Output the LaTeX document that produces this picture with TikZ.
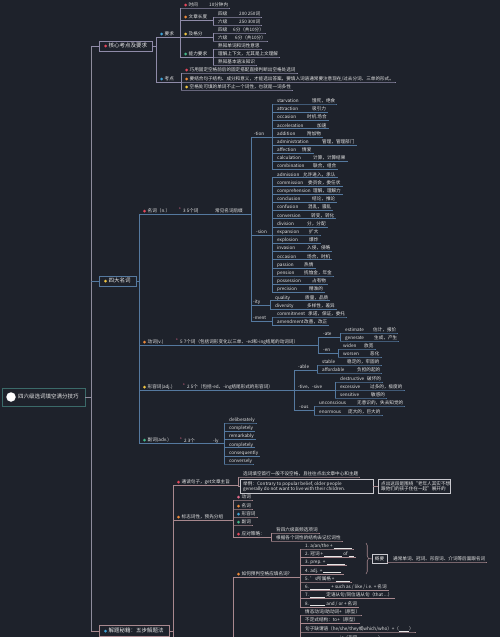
\documentclass[tikz,border=0pt]{standalone}
\usepackage{fontspec}
\setmainfont{Noto Sans CJK SC}
\usetikzlibrary{decorations.pathreplacing}
\definecolor{bg}{HTML}{1E222B}
\definecolor{fg}{HTML}{E6E6E6}
\definecolor{trunkc}{HTML}{8E8C9C}
\definecolor{corec}{HTML}{8F8BA8}
\definecolor{bluec}{HTML}{55799F}
\definecolor{pinkc}{HTML}{A8888E}
\definecolor{rootb}{HTML}{3B6A69}
\definecolor{redc}{HTML}{E5475B}
\definecolor{orangec}{HTML}{EE8A3A}
\definecolor{yellowc}{HTML}{F0C542}
\definecolor{greenc}{HTML}{45B98A}
\definecolor{bluedot}{HTML}{3FA3D8}
\definecolor{pinkdot}{HTML}{E4688A}
\definecolor{boxw}{HTML}{C9C9CF}
\newcommand\fs{\fontsize{4.6}{5.2}\selectfont}
\newcommand\fb{\fontsize{5.5}{6.5}\selectfont}
\newcommand\blk[1][16pt]{\rule[-0.5pt]{#1}{0.35pt}}
\tikzset{
  txt/.style={inner sep=0pt, anchor=west, text=fg, font=\fs, text height=3.7pt, text depth=0.9pt},
  txtm/.style={inner sep=0pt, anchor=west, text=fg, font=\fs, align=left},
  br/.style={draw=bluec, line width=0.55pt},
  trunk/.style={draw=trunkc, line width=0.6pt},
  dot/.style={circle, inner sep=0pt, minimum size=3pt},
  mbox/.style={draw=#1, fill=bg, line width=0.6pt, inner sep=0pt},
  wbox/.style={draw=boxw, line width=0.5pt, inner sep=0pt},
  star/.style={inner sep=0pt, text=pinkdot, font=\fs},
}
% one-text leaf
\newcommand\one[4]{%
  \node[txt] (#1) at ({#2+5},#3) {#4};
  \coordinate (#1u) at (#2,{#3+3});
  \draw[br] (#1u) -- (#1u -| #1.east) -- ++(2,0);
}
% two-text leaf
\newcommand\two[6]{%
  \node[txt] (#1) at ({#2+5},#3) {#4};
  \node[txt] (#1m) at (#5,#3) {#6};
  \coordinate (#1u) at (#2,{#3+3});
  \draw[br] (#1u) -- (#1u -| #1m.east) -- ++(2,0);
}
% dotted leaf
\newcommand\dtone[5]{%
  \node[dot,fill=#4] (#1d) at ({#2+5.5},#3) {};
  \node[txt] (#1) at ({#2+8.5},#3) {#5};
  \coordinate (#1u) at (#2,{#3+3});
  \draw[br] (#1u) -- (#1u -| #1.east) -- ++(2,0);
}
% dotted two-text leaf
\newcommand\dttwo[7]{%
  \node[dot,fill=#4] (#1d) at ({#2+5.5},#3) {};
  \node[txt] (#1) at ({#2+8.5},#3) {#5};
  \node[txt] (#1m) at (#6,#3) {#7};
  \coordinate (#1u) at (#2,{#3+3});
  \draw[br] (#1u) -- (#1u -| #1m.east) -- ++(2,0);
}
% dotted parent, underline to endX
\newcommand\dtpar[6]{%
  \node[dot,fill=#4] (#1d) at ({#2+5.5},#3) {};
  \node[txt] (#1) at ({#2+8.5},#3) {#5};
  \coordinate (#1u) at (#2,{#3+3});
  \coordinate (#1e) at (#6,{#3+3});
  \draw[br] (#1u) -- (#1e);
}
% plain parent
\newcommand\plainp[6]{%
  \node[txt] (#1) at (#4,#3) {#5};
  \coordinate (#1u) at (#2,{#3+3});
  \coordinate (#1e) at (#6,{#3+3});
  \draw[br] (#1u) -- (#1e);
}
\begin{document}
\begin{tikzpicture}[x=1pt,y=-1pt]
\useasboundingbox (0,0) rectangle (500,637);
\clip (0,0) rectangle (500,637);
\fill[bg] (0,0) rectangle (500,637);

% ---------- root and trunk ----------
\node[mbox=rootb, fill=bg, minimum width=83pt, minimum height=18pt] (root) at (43.5,397) {};
\node[circle, fill=white, inner sep=0pt, minimum size=9.5pt] (ricon) at (11,397) {};
\node[txt, font=\fb] (rtxt) at (18,397) {四六级选词填空满分技巧};
\coordinate (tTop) at (91,46);
\coordinate (tBot) at (91,631);
\draw[trunk] (tTop) -- (tBot);
\draw[trunk] (root.east) -- (root.east -| tTop);

% ---------- branch 1 ----------
\begin{scope}[br/.style={draw=corec, line width=0.55pt}]
\node[mbox=corec, minimum width=53pt, minimum height=10pt] (core) at (125.5,46) {};
\node[dot, fill=redc] (cored) at (105.5,46) {};
\node[txt, font=\fb] (coret) at (108.5,46) {核心考点及要求};
\draw[br] (tTop) -- (core.west);
\coordinate (coreR) at (156,46);
\draw[br] (core.east) -- (coreR);
\dtpar{yq}{156}{34}{bluedot}{要求}{180}
\dtpar{kd}{156}{79}{bluedot}{考点}{181}
\draw[br] (yqu) -- (kdu);
% 要求 children
\dttwo{sj}{180}{5}{redc}{时间}{209}{10分钟内}
\dtpar{wz}{180}{17}{orangec}{文章长度}{213}
\two{wz4}{213}{14}{四级}{239}{200~250词}
\two{wz6}{213}{22}{六级}{239}{250~300词}
\draw[br] (wz4u) -- (wz6u);
\dtpar{jg}{180}{34}{yellowc}{及格分}{213}
\two{jg4}{213}{30}{四级}{233}{6分（共10分）}
\two{jg6}{213}{38}{六级}{235}{6分（共10分）}
\draw[br] (jg4u) -- (jg6u);
\dtpar{nl}{180}{54}{greenc}{能力要求}{213}
\one{nl1}{213}{46}{熟知单词和词性意思}
\one{nl2}{213}{54}{理解上下文，尤其是上文理解}
\one{nl3}{213}{62}{熟知基本语法知识}
\draw[br] (nl1u) -- (nl3u);
\draw[br] (sju) -- (nlu);
% 考点 children
\dtone{k1}{181}{70}{redc}{巧用固定空格前后的固定搭配直接判断出空格处选词}
\dtone{k2}{181}{79}{orangec}{要结合句子结构、成分和意义，才能选出答案。要填入词语通常要注意现在/过去分词、三单的形式。}
\dtone{k3}{181}{87}{yellowc}{空格处可填的单词不止一个词性，也就是一词多性}
\draw[br] (k1u) -- (k3u);
\end{scope}

% ---------- branch 2 ----------
\begin{scope}[br/.style={draw=bluec, line width=0.55pt}]
\node[mbox=bluec, minimum width=37pt, minimum height=10pt] (four) at (117.5,281) {};
\node[dot, fill=yellowc] (fourd) at (105.5,281) {};
\node[txt, font=\fb] (fourt) at (108.5,281) {四大名词};
\draw[br] (tTop |- four.west) -- (four.west);
\coordinate (fourR) at (139,281);
\draw[br] (four.east) -- (fourR);

% 名词
\dtpar{nm}{139}{211}{redc}{名词（n.）}{251}
\node[star] (nms) at (180,210) {*};
\node[txt] (nmc) at (183,211) {3~5个词};
\node[txt] (nmc2) at (215,211) {常见名词后缀};
\plainp{tion}{251}{134}{254}{-tion}{272}
\two{a1}{272}{101.0}{starvation}{312}{饿死，绝食}
\two{a2}{272}{109.2}{attraction}{312}{吸引力}
\two{a3}{272}{117.4}{occasion}{307}{时机 场合}
\two{a4}{272}{125.6}{acceleration}{317}{加速}
\two{a5}{272}{133.8}{addition}{307}{附加物}
\two{a6}{272}{141.9}{administration}{322}{管理，管理部门}
\two{a7}{272}{150.1}{affection}{302}{情爱}
\two{a8}{272}{158.3}{calculation}{313}{计算，计算结果}
\two{a9}{272}{166.5}{combination}{313}{联合，组合}
\draw[br] (a1u) -- (a9u);
\plainp{sion}{251}{232}{256}{-sion}{272}
\two{b1}{272}{174.7}{admission}{303}{允许进入，承认}
\two{b2}{272}{182.9}{commission}{308}{委员会，委任状}
\two{b3}{272}{191.1}{comprehension}{313}{理解，理解力}
\two{b4}{272}{199.3}{conclusion}{312}{结论，推论}
\two{b5}{272}{207.5}{confusion}{308}{混乱，骚乱}
\two{b6}{272}{215.7}{conversion}{311}{转变，转化}
\two{b7}{272}{223.9}{division}{307}{分，分配}
\two{b8}{272}{232.0}{expansion}{309}{扩大}
\two{b9}{272}{240.2}{explosion}{309}{爆炸}
\two{b10}{272}{248.4}{invasion}{307}{入侵，侵略}
\two{b11}{272}{256.6}{occasion}{307}{场合，时机}
\two{b12}{272}{264.8}{passion}{304}{热情}
\two{b13}{272}{273.0}{pension}{304}{抚恤金，年金}
\two{b14}{272}{281.2}{possession}{312}{占有物}
\two{b15}{272}{289.4}{precision}{309}{精准的}
\draw[br] (b1u) -- (b15u);
\plainp{ity}{251}{302}{253}{-ity}{270}
\two{c1}{270}{297.6}{quality}{305}{质量，品质}
\two{c2}{270}{305.8}{diversity}{307}{多样性，差异}
\draw[br] (c1u) -- (c2u);
\plainp{ment}{251}{318}{253}{-ment}{272}
\two{d1}{272}{314.0}{commitment}{308}{承诺，保证，委托}
\two{d2}{272}{322.1}{amendment}{304}{改善，改正}
\draw[br] (d1u) -- (d2u);
\draw[br] (tionu) -- (mentu);

% 动词
\dtpar{dc}{139}{342}{orangec}{动词(v.)}{318}
\node[star] (dcs) at (177,341) {*};
\node[txt] (dcc) at (180,342) {5~7个词（包括词形变化以三单、-ed和-ing结尾的动词词）};
\plainp{ate}{318}{334}{323}{-ate}{340}
\two{e1}{340}{330}{estimate}{373}{估计，报价}
\two{e2}{340}{338}{generate}{374}{生成，产生}
\draw[br] (e1u) -- (e2u);
\plainp{en}{318}{350}{323}{-en}{338}
\two{f1}{338}{346}{widen}{364}{放宽}
\two{f2}{338}{354}{worsen}{370}{恶化}
\draw[br] (f1u) -- (f2u);
\draw[br] (ateu) -- (enu);

% 形容词
\dtpar{xr}{139}{387}{yellowc}{形容词(adj.)}{294}
\node[star] (xrs) at (184,386) {*};
\node[txt] (xrc) at (187,387) {2~5个（包括-ed、-ing结尾形式的形容词）};
\plainp{able}{294}{367}{298}{-able}{317}
\two{g1}{317}{362}{stable}{347}{稳定的，牢固的}
\two{g2}{317}{370}{affordable}{357}{负担的起的}
\draw[br] (g1u) -- (g2u);
\plainp{tive}{294}{387}{298}{-tive、-sive}{335}
\two{h1}{335}{379}{destructive}{367}{破坏的}
\two{h2}{335}{387}{excessive}{370}{过多的，极度的}
\two{h3}{335}{395}{sensitive}{371}{敏感的}
\draw[br] (h1u) -- (h3u);
\plainp{ous}{294}{407}{299}{-ous}{314}
\two{i1}{314}{403}{unconscious}{357}{无意识的，失去知觉的}
\two{i2}{314}{412}{enormous}{348}{庞大的，巨大的}
\draw[br] (i1u) -- (i2u);
\draw[br] (ableu) -- (ousu);

% 副词
\dtpar{fc}{139}{440}{greenc}{副词(adv.)}{224}
\node[star] (fcs) at (181,440) {*};
\node[txt] (fcc) at (184,441) {2~3个};
\node[txt] (ly) at (213,441) {-ly};
\one{j1}{224}{420}{deliberately}
\one{j2}{224}{428.2}{completely}
\one{j3}{224}{436.4}{remarkably}
\one{j4}{224}{444.6}{completely}
\one{j5}{224}{452.8}{consequently}
\one{j6}{224}{461}{conversely}
\draw[br] (j1u) -- (j6u);
\draw[br] (nmu) -- (fcu);
\end{scope}

% ---------- branch 3 ----------
\begin{scope}[br/.style={draw=pinkc, line width=0.55pt}]
\node[mbox=pinkc, minimum width=70pt, minimum height=11pt] (jt) at (134,631) {};
\node[dot, fill=bluedot] (jtd) at (105.5,631) {};
\node[txt, font=\fb] (jtt) at (108.5,631) {解题秘籍：五步解题法};
\draw[br] (tBot) -- (jt.west);
\coordinate (jtR) at (173,631);
\coordinate (jtB) at (173,645);
\draw[br] (jt.east) -- (jtR);

% 通读
\dtpar{td}{173}{482}{redc}{通读句子，get文章主旨}{238}
\one{td1}{238}{474}{选词填空首行一般不设空格，且往往点出文章中心和主题}
\node[wbox, minimum width=133pt, minimum height=14pt] (ex) at (306.5,486.5) {};
\node[txtm] (ext) at (243,486.5) {举例：Contrary to popular belief, older people\\ generally do not want to live with their children.};
\node[wbox, minimum width=72pt, minimum height=14pt] (pt) at (414,486.5) {};
\node[txtm] (ptt) at (381,486.5) {点出这段是围绕“老年人其实不想\\跟他们的孩子住在一起”展开的};
\coordinate (exc) at (238,486.5);
\draw[br] (td1u) -- (exc) -- (ex.west);
\draw[br] (ex.east) -- (pt.west);

% 标志词性
\dtpar{bz}{173}{517}{orangec}{标志词性，预先分组}{233}
\dtone{s1}{233}{497}{pinkdot}{动词}
\dtone{s2}{233}{506}{orangec}{名词}
\dtone{s3}{233}{514}{bluedot}{形容词}
\dtone{s4}{233}{522}{greenc}{副词}
\dtpar{s5}{233}{534}{redc}{应对策略：}{271}
\one{s51}{271}{530}{背四六级高频选项词}
\one{s52}{271}{538}{根据各个词性的结构去记忆词性}
\draw[br] (s51u) -- (s52u);
\draw[br] (s1u) -- (s5u);

% 如何预判
\dtpar{yp}{233}{574}{orangec}{如何预判空格应填名词?}{300}
\coordinate (ypB) at (233,645);
\draw[br] (ypu) -- (ypB);
\one{p1}{300}{546}{1. a/an/the + \blk[18pt]}
\one{p2}{300}{554.3}{2. 冠词 + \blk[18pt] of \blk[5pt]}
\one{p3}{300}{562.5}{3. prep. + \blk[18pt]}
\one{p4}{300}{570.8}{4. adj. + \blk[18pt]}
\one{p5}{300}{579}{5. 's所属格 + \blk[14pt]}
\one{p6}{300}{587.3}{6. \blk[20pt] + such as / like / i.e. + 名词}
\one{p7}{300}{595.5}{7. \blk[15pt] 定语从句/同位语从句（that ...）}
\one{p8}{300}{603.8}{8. \blk[15pt] and / or + 名词}
\draw[br] (p1u) -- (p8u);
\coordinate (brA) at (366,543);
\coordinate (brB) at (366,574);
\draw[br, decorate, decoration={brace, amplitude=2.5pt}] (brA) -- (brB);
\coordinate (brT) at (369,558.5);
\node[wbox, minimum width=15pt, minimum height=9pt, text=fg, font=\fs] (gy) at (379.5,559) {概要};
\draw[br] (brT) -- (gy.west);
\node[txt] (gyt) at (393,559) {通常单词、冠词、形容词、介词等后面跟名词};
\coordinate (gyu) at (387,562);
\draw[br] (gyu) -- (gyu -| gyt.east) -- ++(2,0);

% next group (partly cut)
\one{q1}{300}{612}{情态动词/助动词+（原型）}
\one{q2}{300}{620.5}{不定式结构：to+（原型）}
\one{q3}{300}{629}{句子缺谓语（he/she/they或which/who）+（\blk[10pt]）}
\one{q4}{300}{638}{\blk[34pt] is（形容\blk[8pt]，\blk[8pt]）}
\coordinate (qB) at (300,645);
\draw[br] (q1u) -- (qB);

\draw[br] (tdu) -- (jtB);
\end{scope}
\end{tikzpicture}
\end{document}
